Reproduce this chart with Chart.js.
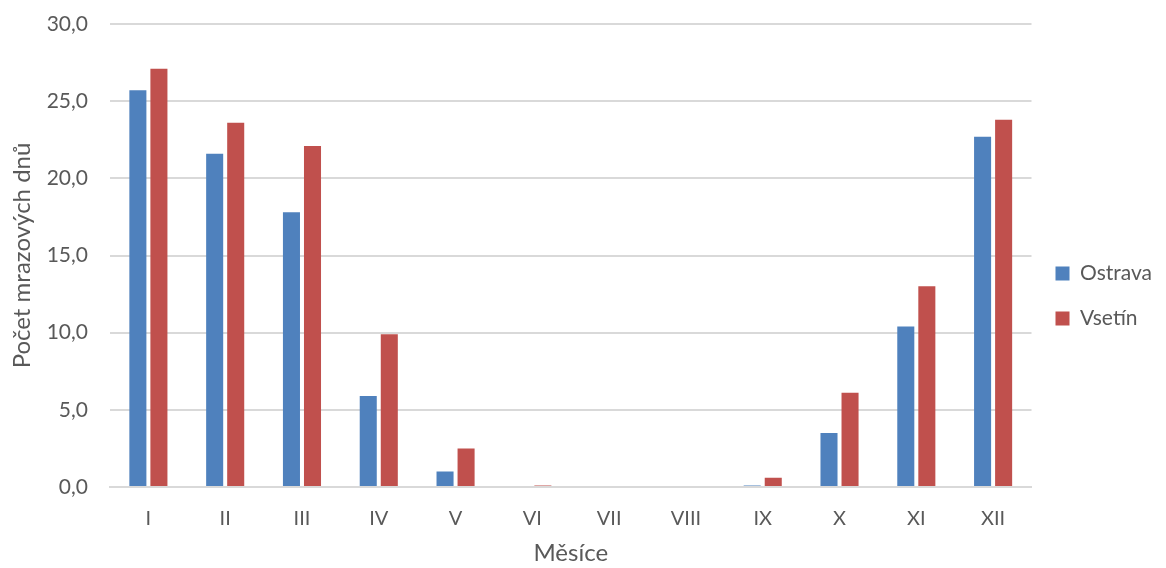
<!DOCTYPE html>
<html>
<head>
<meta charset="utf-8">
<script src="https://cdn.jsdelivr.net/npm/chart.js@4/dist/chart.umd.min.js"></script>
<style>
  html, body { margin: 0; padding: 0; background: #ffffff; }
  #wrap { width: 1166px; height: 568px; position: relative; }
</style>
</head>
<body>
<div id="wrap"><canvas id="c" width="1166" height="568"></canvas></div>
<script>
// Průměrný počet mrazových dnů podle měsíců
const months = ['I', 'II', 'III', 'IV', 'V', 'VI', 'VII', 'VIII', 'IX', 'X', 'XI', 'XII'];
const ostrava = [25.7, 21.6, 17.8, 5.9, 1.0, 0.0, 0.0, 0.0, 0.1, 3.5, 10.4, 22.7];
const vsetin  = [27.1, 23.6, 22.1, 9.9, 2.5, 0.1, 0.0, 0.0, 0.6, 6.1, 13.0, 23.8];
const yTicks  = [0, 5, 10, 15, 20, 25, 30];

const FONT = 'Lato, "Open Sans", sans-serif';
const TEXT = '#595959';

new Chart(document.getElementById('c'), {
  type: 'bar',
  data: {
    labels: months,
    datasets: [
      { label: 'Ostrava', data: ostrava, backgroundColor: '#4F81BD' },
      { label: 'Vsetín',  data: vsetin,  backgroundColor: '#C0504D' }
    ]
  },
  options: {
    responsive: false,
    animation: false,
    categoryPercentage: 0.548,
    barPercentage: 0.81,
    layout: { padding: { top: 24, right: 4, left: 0, bottom: 0 } },
    plugins: {
      tooltip: { enabled: false },
      legend: {
        position: 'right',
        align: 'center',
        labels: {
          boxWidth: 14,
          boxHeight: 14,
          padding: 24,
          color: TEXT,
          font: { family: FONT, size: 21 }
        }
      }
    },
    scales: {
      x: {
        grid: { display: false, drawTicks: false },
        border: { color: '#D9D9D9', width: 2 },
        ticks: { color: TEXT, padding: 20, font: { family: FONT, size: 20 } },
        title: {
          display: true, text: 'Měsíce', color: TEXT,
          font: { family: FONT, size: 24 }, padding: { top: 0, bottom: 0 }
        },
        afterFit: s => { s.height = 81; }
      },
      y: {
        min: 0, max: 30,
        afterBuildTicks: s => { s.ticks = yTicks.map(v => ({ value: v })); },
        grid: { color: '#D9D9D9', lineWidth: 2, drawTicks: false },
        border: { display: false },
        ticks: {
          color: TEXT, padding: 22, font: { family: FONT, size: 21 },
          callback: v => v.toFixed(1).replace('.', ',')
        },
        title: {
          display: true, text: 'Počet mrazových dnů', color: TEXT,
          font: { family: FONT, size: 24 }, padding: { top: 8, bottom: 0 }
        },
        afterFit: s => { s.width = 110; s.paddingTop = 0; s.paddingBottom = 0; }
      }
    }
  }
});
</script>
</body>
</html>
